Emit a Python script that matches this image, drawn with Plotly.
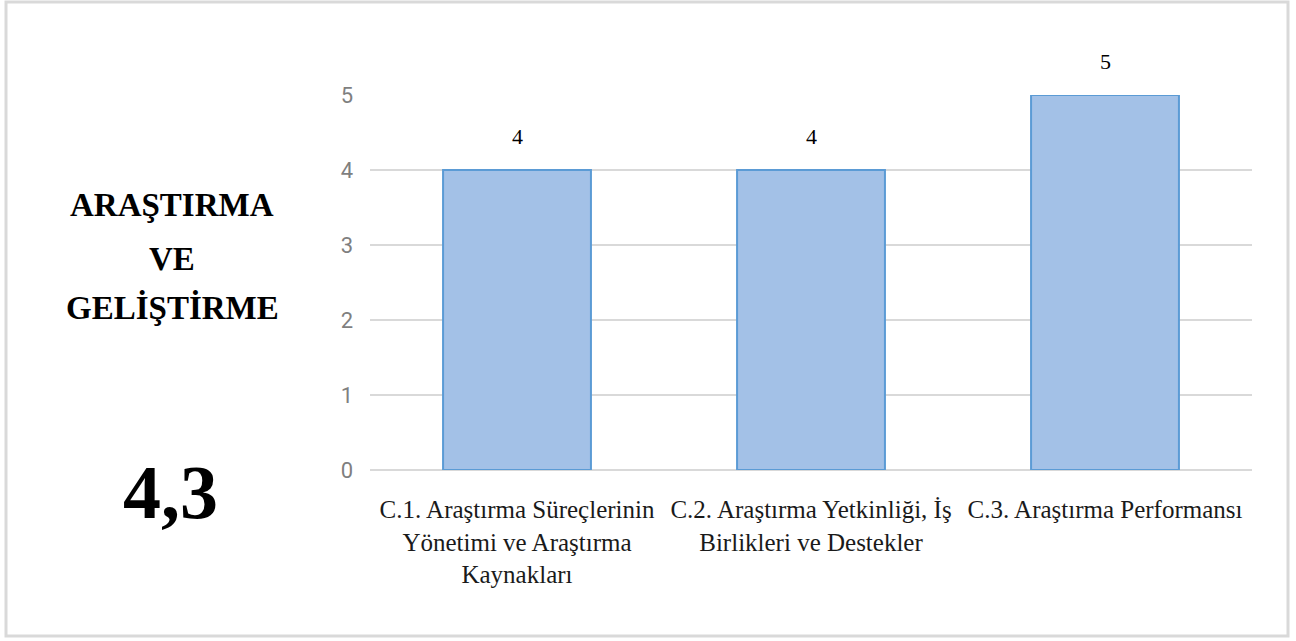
import plotly.graph_objects as go

categories = [
    "C.1. Araştırma Süreçlerinin<br>Yönetimi ve Araştırma<br>Kaynakları",
    "C.2. Araştırma Yetkinliği, İş<br>Birlikleri ve Destekler",
    "C.3. Araştırma Performansı",
]
scores = [4, 4, 5]
title_lines = ["ARAŞTIRMA", "VE", "GELİŞTİRME"]
overall = "4,3"
y_ticks = [0, 1, 2, 3, 4, 5]

W, H = 1296, 641
ML, MR, MT, MB = 370, 44, 95, 171
PW, PH = W - ML - MR, H - MT - MB


def px_x(x):
    return (x - ML) / PW


def px_y(y):
    return (H - MB - y) / PH


serif = "Liberation Serif, Times New Roman, serif"
narrow = "Liberation Sans Narrow, Arial Narrow, Roboto, sans-serif"

fig = go.Figure()
fig.add_trace(go.Bar(
    x=categories,
    y=scores,
    width=0.503,
    marker=dict(color="#a3c1e7", line=dict(color="#5b9bd5", width=2)),
    hoverinfo="skip",
))

# value labels above bars
for c, v in zip(categories, scores):
    fig.add_annotation(x=c, y=v, text=str(v), showarrow=False, yshift=34,
                       font=dict(family=serif, size=22, color="#000000"))

for line, yc in zip(title_lines, [205, 259, 307]):
    fig.add_annotation(xref="paper", yref="paper", x=px_x(172), y=px_y(yc),
                       text=f"<b>{line}</b>", showarrow=False,
                       xanchor="center", yanchor="middle",
                       font=dict(family=serif, size=33, color="#000000"))

fig.add_annotation(xref="paper", yref="paper", x=px_x(170), y=px_y(492),
                   text=f"<b>{overall}</b>", showarrow=False,
                   xanchor="center", yanchor="middle",
                   font=dict(family=serif, size=76, color="#000000"))

# outer frame
fig.add_shape(type="rect", xref="paper", yref="paper",
              x0=px_x(6), x1=px_x(1288), y0=px_y(636), y1=px_y(2),
              line=dict(color="#d9d9d9", width=3), fillcolor="rgba(0,0,0,0)",
              layer="below")

fig.update_layout(
    width=W, height=H,
    margin=dict(l=ML, r=MR, t=MT, b=MB),
    paper_bgcolor="#ffffff",
    plot_bgcolor="#ffffff",
    showlegend=False,
    bargap=0.5,
)
fig.update_xaxes(
    showgrid=False, showline=False, ticks="",
    tickangle=0,
    tickfont=dict(family=serif, size=25, color="#1a1a1a"),
    ticklabelstandoff=22,
)
fig.update_yaxes(
    range=[0, 5], tickvals=y_ticks,
    showgrid=True, gridcolor="#d9d9d9", gridwidth=1.5,
    zeroline=True, zerolinecolor="#d9d9d9", zerolinewidth=1.5,
    showline=False, ticks="",
    tickfont=dict(family=narrow, size=22, color="#7f7f7f"),
    ticklabelstandoff=16,
)

fig.write_html("out.html", config={"displayModeBar": False},
               post_script="document.body.style.margin='0';")
